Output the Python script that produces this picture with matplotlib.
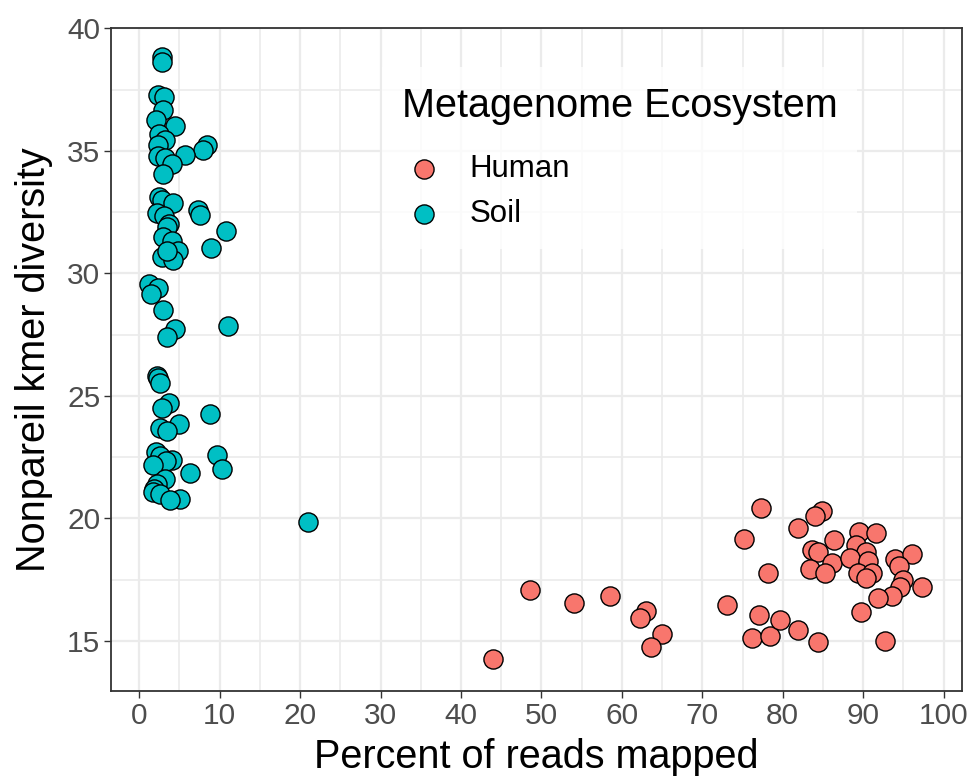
import matplotlib

matplotlib.use("Agg")
import matplotlib.pyplot as plt
from matplotlib.ticker import MultipleLocator

plt.rcParams["font.family"] = ["Liberation Sans", "DejaVu Sans"]

# values
human_pct = [48.55, 54.02, 44.04, 58.58, 63.05, 62.22, 64.99, 63.68, 75.18, 73.07,
             77.26, 78.13, 77.02, 76.14, 78.46, 79.62, 81.94, 84.34, 81.94, 84.93,
             84.01, 86.33, 83.60, 84.34, 86.17, 83.43, 85.25, 89.47, 91.55, 89.15,
             90.31, 88.41, 90.59, 89.40, 91.14, 90.39, 93.95, 96.02, 94.44, 94.94,
             94.53, 93.63, 91.80, 97.35, 89.77, 92.71]
human_div = [17.07, 16.57, 14.27, 16.84, 16.21, 15.92, 15.27, 14.74, 19.15, 16.48,
             20.43, 17.76, 16.06, 15.12, 15.19, 15.87, 15.46, 14.95, 19.62, 20.30,
             20.09, 19.11, 18.71, 18.63, 18.20, 17.93, 17.79, 19.44, 19.42, 18.90,
             18.63, 18.40, 18.25, 17.79, 17.76, 17.55, 18.33, 18.54, 18.04, 17.49,
             17.22, 16.84, 16.74, 17.22, 16.17, 15.01]

soil_pct = [2.86, 2.86, 2.29, 3.07, 2.98, 2.08, 4.47, 2.41, 3.23, 2.36,
            8.38, 7.88, 2.32, 3.23, 5.72, 4.03, 2.98, 2.45, 2.78, 4.15,
            7.33, 7.54, 2.16, 3.07, 3.65, 3.40, 10.77, 2.91, 4.03, 4.85,
            8.91, 2.78, 4.23, 3.48, 1.24, 2.29, 1.42, 2.91, 4.47, 3.48,
            11.02, 2.16, 2.36, 2.57, 3.73, 2.78, 8.79, 2.57, 4.90, 3.40,
            2.04, 2.57, 4.03, 3.32, 1.74, 9.69, 10.24, 6.30, 3.19, 2.16,
            1.86, 1.67, 2.57, 5.06, 3.82, 20.96]
soil_div = [38.82, 38.63, 37.28, 37.20, 36.65, 36.27, 36.00, 35.70, 35.43, 35.24,
            35.24, 35.05, 34.80, 34.70, 34.81, 34.48, 34.05, 33.10, 33.00, 32.86,
            32.59, 32.40, 32.45, 32.36, 32.02, 31.88, 31.72, 31.50, 31.31, 30.93,
            31.04, 30.66, 30.56, 30.93, 29.55, 29.42, 29.17, 28.50, 27.75, 27.41,
            27.85, 25.81, 25.72, 25.54, 24.70, 24.52, 24.26, 23.69, 23.85, 23.55,
            22.70, 22.53, 22.40, 22.33, 22.17, 22.60, 22.03, 21.86, 21.61, 21.42,
            21.21, 21.07, 20.98, 20.80, 20.77, 19.87]

GROUPS = ["Human", "Soil"]
COLORS = {"Human": "#F8766D", "Soil": "#00BFC4"}

fig = plt.figure(figsize=(9.7, 7.76), dpi=100)
ax = fig.add_axes([111.5 / 970, 1 - 690.5 / 776, 850.2 / 970, 662.2 / 776])

for name, xs, ys in [("Human", human_pct, human_div), ("Soil", soil_pct, soil_div)]:
    ax.scatter(xs, ys, s=190, color=COLORS[name], edgecolors="black",
               linewidths=1.0, label=name, zorder=3)

ax.set_xlim(-3.45, 102.25)
ax.set_ylim(12.98, 40.0)
ax.xaxis.set_major_locator(MultipleLocator(10))
ax.xaxis.set_minor_locator(MultipleLocator(5))
ax.yaxis.set_major_locator(MultipleLocator(5))
ax.yaxis.set_minor_locator(MultipleLocator(2.5))
ax.grid(which="major", color="#EBEBEB", linewidth=1.6, zorder=0)
ax.grid(which="minor", color="#EBEBEB", linewidth=1.2, zorder=0)
ax.set_axisbelow(True)
ax.tick_params(which="major", length=5, width=1.0, color="#333333",
               labelsize=21.5, labelcolor="#4D4D4D", pad=3)
ax.tick_params(which="minor", length=0)
for spine in ax.spines.values():
    spine.set_color("#333333")
    spine.set_linewidth(1.3)

ax.set_xlabel("Percent of reads mapped", fontsize=28.5, labelpad=6)
ax.set_ylabel("Nonpareil kmer diversity", fontsize=28.5, labelpad=10)

leg = ax.legend(title="Metagenome Ecosystem", loc="upper left",
                bbox_to_anchor=(382 / 970, 1 - 67 / 776),
                bbox_transform=fig.transFigure, borderaxespad=0,
                fontsize=22.5, title_fontsize=28.5, frameon=True,
                fancybox=False, borderpad=0.63, handlelength=1.43,
                handletextpad=0.74, labelspacing=0.5, alignment="left")
leg.get_frame().set_edgecolor("white")
leg.get_frame().set_linewidth(0)
# more room between the legend title and its keys, as in the reference
leg._legend_box.sep = 21

fig.savefig("out.png")
